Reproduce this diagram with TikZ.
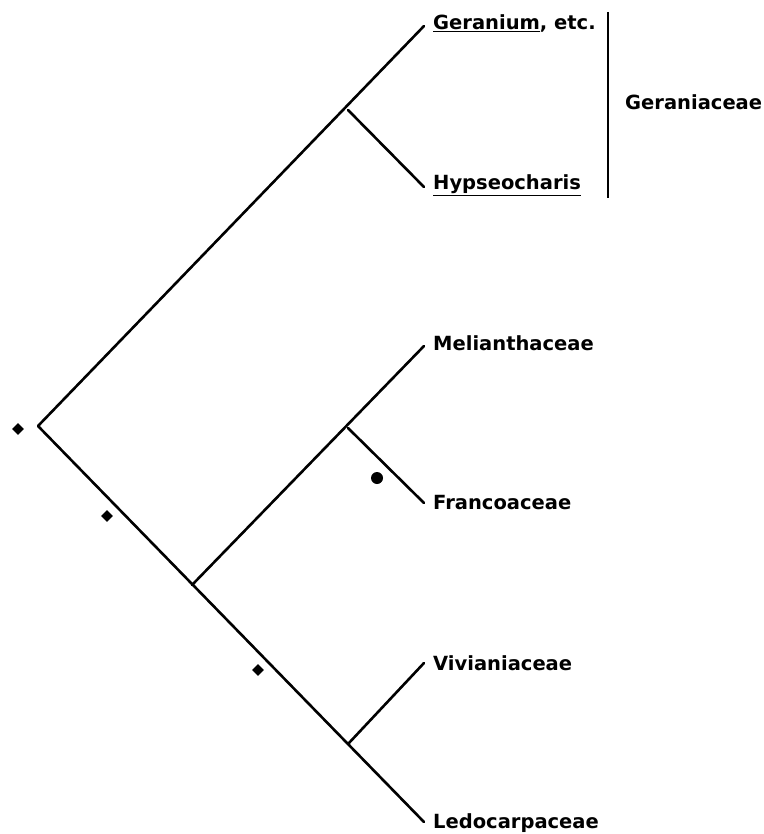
\documentclass[tikz,border=0pt]{standalone}
\usepackage{fontspec}
\setmainfont{DejaVu Sans}
\usetikzlibrary{shapes.geometric}
\begin{document}
\begin{tikzpicture}[x=1pt,y=-1pt,
  branch/.style={line width=2.6pt,line cap=round,line join=round},
  taxon/.style={anchor=base west,inner sep=0pt,font=\fontsize{19.5}{23}\selectfont\bfseries},
  apo/.style={diamond,fill=black,inner sep=0pt,minimum size=12pt},
  dotmark/.style={circle,fill=black,inner sep=0pt,minimum size=12pt}]
\useasboundingbox (0,0) rectangle (763,834);
% nodes of the tree
\coordinate (root) at (38,426);
\coordinate (ngh)  at (348,110);
\coordinate (nmc)  at (192,585);
\coordinate (nmf)  at (348,428);
\coordinate (nvl)  at (348,744);
% tips
\coordinate (tger) at (424,26);
\coordinate (thyp) at (424,187);
\coordinate (tmel) at (424,346);
\coordinate (tfra) at (424,503);
\coordinate (tviv) at (424,663);
\coordinate (tled) at (424,822);
% branches
\draw[branch] (tger) -- (root) -- (tled);
\draw[branch] (ngh) -- (thyp);
\draw[branch] (nmc) -- (tmel);
\draw[branch] (nmf) -- (tfra);
\draw[branch] (nvl) -- (tviv);
% labels
\node[taxon] (lger) at (433,30) {\underline{Geranium}, etc.};
\node[taxon] (lhyp) at (433,190) {\underline{Hypseocharis}};
\node[taxon] (lmel) at (433,350) {Melianthaceae};
\node[taxon] (lfra) at (433,509) {Francoaceae};
\node[taxon] (lviv) at (433,670) {Vivianiaceae};
\node[taxon] (lled) at (433,828) {Ledocarpaceae};
% family bracket
\coordinate (btop) at (608,12);
\coordinate (bbot) at (608,198);
\draw[line width=2.6pt] (btop) -- (bbot);
\node[taxon] (lfam) at (625,110) {Geraniaceae};
% character marks
\node[apo] (d1) at (18,429) {};
\node[apo] (d2) at (107,516) {};
\node[apo] (d3) at (258,670) {};
\node[dotmark] (c1) at (377,478) {};
\end{tikzpicture}
\end{document}
